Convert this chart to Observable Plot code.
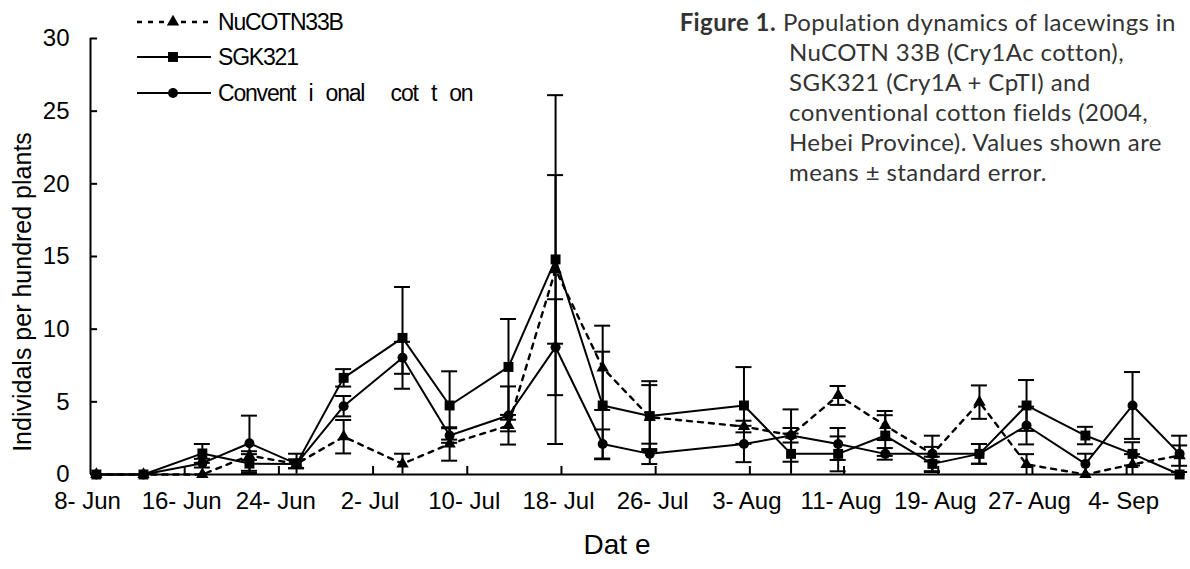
<!DOCTYPE html>
<html><head><meta charset="utf-8">
<script src="https://cdn.jsdelivr.net/npm/d3@7"></script>
<script src="https://cdn.jsdelivr.net/npm/@observablehq/plot@0.6"></script>
<style>
body{margin:0;background:#fff;}
#wrap{position:relative;width:1190px;height:569px;overflow:hidden;font-family:"Liberation Sans",Arial,sans-serif;color:#000;}
#chart{position:absolute;left:0;top:0;}
.ov{position:absolute;white-space:pre;}
.cap{position:absolute;font-family:Lato,"Open Sans",sans-serif;font-size:24px;line-height:30px;color:#333;letter-spacing:0.4px;white-space:nowrap;}
#ylabel{font-size:25px;left:22px;top:292px;transform:translate(-50%,-50%) rotate(-90deg);}
#xlabel{font-size:28px;left:617px;top:545px;transform:translate(-50%,-50%);}
#legend{left:0;top:0;}
</style></head>
<body><div id="wrap"><div id="chart"></div></div>
<script>
// ---- data ----
const dates = ["2004-06-08","2004-06-12","2004-06-17","2004-06-21","2004-06-25","2004-06-29","2004-07-04","2004-07-08","2004-07-13","2004-07-17","2004-07-21","2004-07-25","2004-08-02","2004-08-06","2004-08-10","2004-08-14","2004-08-18","2004-08-22","2004-08-26","2004-08-31","2004-09-04","2004-09-08"];
const nucotn   = [0,0,0,1.3,0.73,2.6,0.73,2.1,3.37,14.1,7.34,3.95,3.3,2.7,5.44,3.37,1.4,4.98,0.7,0,0.7,1.3];
const nucotnSE = [0,0,0,0.3,0.3,1.15,0.7,1.15,0.4,12,2.9,2.2,0.4,0.5,0.65,1.0,0.5,1.15,0.7,0,0.7,0.7];
const sgk      = [0,0,1.45,0.75,0.73,6.65,9.4,4.75,7.4,14.8,4.75,4.02,4.75,1.42,1.42,2.68,0.73,1.42,4.75,2.68,1.42,0];
const sgkSE    = [0,0,0.65,0.65,0.7,0.6,3.5,2.35,3.3,5.8,3.7,2.4,2.64,1.4,1.2,1.4,0.5,0.68,1.75,0.6,0.8,0];
const conv     = [0,0,0.78,2.15,0.73,4.7,8.03,2.68,4.06,8.76,2.1,1.42,2.1,2.68,2.1,1.42,1.42,1.42,3.37,0.73,4.75,1.42];
const convSE   = [0,0,0.3,1.9,0.3,0.7,1.1,0.5,2.0,3.3,1.0,0.7,1.25,1.8,1.1,0.4,1.25,0.68,1.3,0.7,2.3,1.25];
const seriesNames = ["NuCOTN33B","SGK321","Convent i onal  cot t on"];
const yTicks = [0,5,10,15,20,25,30];
const xTickDates = ["2004-06-08","2004-06-16","2004-06-24","2004-07-02","2004-07-10","2004-07-18","2004-07-26","2004-08-03","2004-08-11","2004-08-19","2004-08-27","2004-09-04"];
const yLabel = "Individals per hundred plants";
const xLabel = "Dat e";
const captionBold = "Figure 1.";
const captionLines = ["Population dynamics of lacewings in","NuCOTN 33B (Cry1Ac cotton),","SGK321 (Cry1A + CpTI) and","conventional cotton fields (2004,","Hebei Province). Values shown are","means ± standard error."];

// ---- build ----
const parse = d3.utcParse("%Y-%m-%d");
const DAY = 864e5, HALF = DAY/2;
const symbols = ["triangle","square","circle"];
const radii = [4.6,5.6,5];
const vals = [nucotn, sgk, conv], ses = [nucotnSE, sgkSE, convSE];
const rows = [];
seriesNames.forEach((s,i)=>dates.forEach((d,j)=>rows.push({series:s, idx:i, date:parse(d), value:vals[i][j], se:ses[i][j]})));
const errRows = rows.filter(r=>r.se>0);
const xStart = new Date(+parse("2004-06-08") - HALF);
const xEnd = new Date(+parse("2004-09-08") + HALF);
const tickPos = xTickDates.map(d=>new Date(+parse(d) - HALF));
const fmt = d3.utcFormat("%-d- %b");
const cap = 0.68*DAY;

const marks = [
  Plot.ruleX([xStart], {strokeWidth:2}),
  Plot.ruleY([0], {strokeWidth:2}),
  Plot.ruleY(yTicks.slice(1), {y:d=>d, x1:xStart, x2:new Date(+xStart+0.6*DAY), strokeWidth:2}),
  Plot.ruleX(tickPos.slice(1), {x:d=>d, y1:0, y2:0.55, strokeWidth:2}),
  Plot.axisY({ticks:yTicks, tickSize:0, tickPadding:21, fontSize:24, label:null, dy:0}),
  Plot.axisX({ticks:tickPos, tickSize:0, tickPadding:17, fontSize:24, label:null, dx:-3, tickFormat:d=>fmt(new Date(+d+HALF))}),
  Plot.ruleX(errRows, {x:"date", y1:d=>Math.max(0,d.value-d.se), y2:d=>d.value+d.se, strokeWidth:2}),
  Plot.ruleY(errRows, {y:d=>d.value+d.se, x1:d=>new Date(+d.date-cap), x2:d=>new Date(+d.date+cap), strokeWidth:2}),
  Plot.ruleY(errRows.filter(d=>d.value-d.se>0.05), {y:d=>d.value-d.se, x1:d=>new Date(+d.date-cap), x2:d=>new Date(+d.date+cap), strokeWidth:2}),
  Plot.line(rows.filter(r=>r.idx===0), {x:"date", y:"value", stroke:"black", strokeWidth:2.4, strokeDasharray:"5,6"}),
  Plot.line(rows.filter(r=>r.idx===1), {x:"date", y:"value", stroke:"black", strokeWidth:2}),
  Plot.line(rows.filter(r=>r.idx===2), {x:"date", y:"value", stroke:"black", strokeWidth:2}),
  ...[0,1,2].map(i=>Plot.dot(rows.filter(r=>r.idx===i), {x:"date", y:"value", symbol:()=>symbols[i], r:radii[i], fill:"black", stroke:"none"}))
];

const plot = Plot.plot({
  width:1190, height:569,
  marginLeft:90, marginRight:5, marginTop:38, marginBottom:95,
  x:{type:"utc", domain:[xStart,xEnd], axis:null},
  y:{domain:[0,30], axis:null},
  symbol:{type:"identity"},
  style:{fontFamily:"'Liberation Sans', Arial, sans-serif", color:"black", background:"transparent", overflow:"visible"},
  marks
});
document.getElementById("chart").appendChild(plot);

const wrap = document.getElementById("wrap");
function addDiv(id, text){const el=document.createElement("div");el.className="ov";el.id=id;el.textContent=text;wrap.appendChild(el);return el;}
addDiv("ylabel", yLabel);
addDiv("xlabel", xLabel);

// caption
captionLines.forEach((t,i)=>{
  const line = document.createElement("div");
  line.className="cap"; line.style.left=(i===0?783:789)+"px"; line.style.top=(7+i*30)+"px";
  line.textContent=t; wrap.appendChild(line);
});
const b = document.createElement("div"); b.className="cap"; b.style.top="7px"; b.style.fontWeight="bold"; b.textContent=captionBold; wrap.appendChild(b);
b.style.left=(776 - b.getBoundingClientRect().width)+"px";

// legend
const lg = d3.select(wrap).append("svg").attr("class","ov").attr("id","legend").attr("width",560).attr("height",120);
const ly = [22,57,93];
seriesNames.forEach((s,i)=>{
  const g = lg.append("g");
  g.append("line").attr("x1",137).attr("x2",211).attr("y1",ly[i]).attr("y2",ly[i]).attr("stroke","black").attr("stroke-width",i===0?2.4:2).attr("stroke-dasharray",i===0?"5,6":null);
  const sym = {triangle:d3.symbolTriangle,square:d3.symbolSquare,circle:d3.symbolCircle}[symbols[i]];
  g.append("path").attr("d",d3.symbol(sym, Math.PI*radii[i]*radii[i])()).attr("transform",`translate(173,${ly[i]})`).attr("fill","black");
  g.append("text").attr("x",218).attr("y",ly[i]).attr("dy","0.36em").attr("font-size",23).attr("letter-spacing",-1.2).attr("word-spacing",8).attr("font-family","'Liberation Sans', Arial, sans-serif").attr("style","white-space:pre").text(s);
});
</script>
</body></html>
